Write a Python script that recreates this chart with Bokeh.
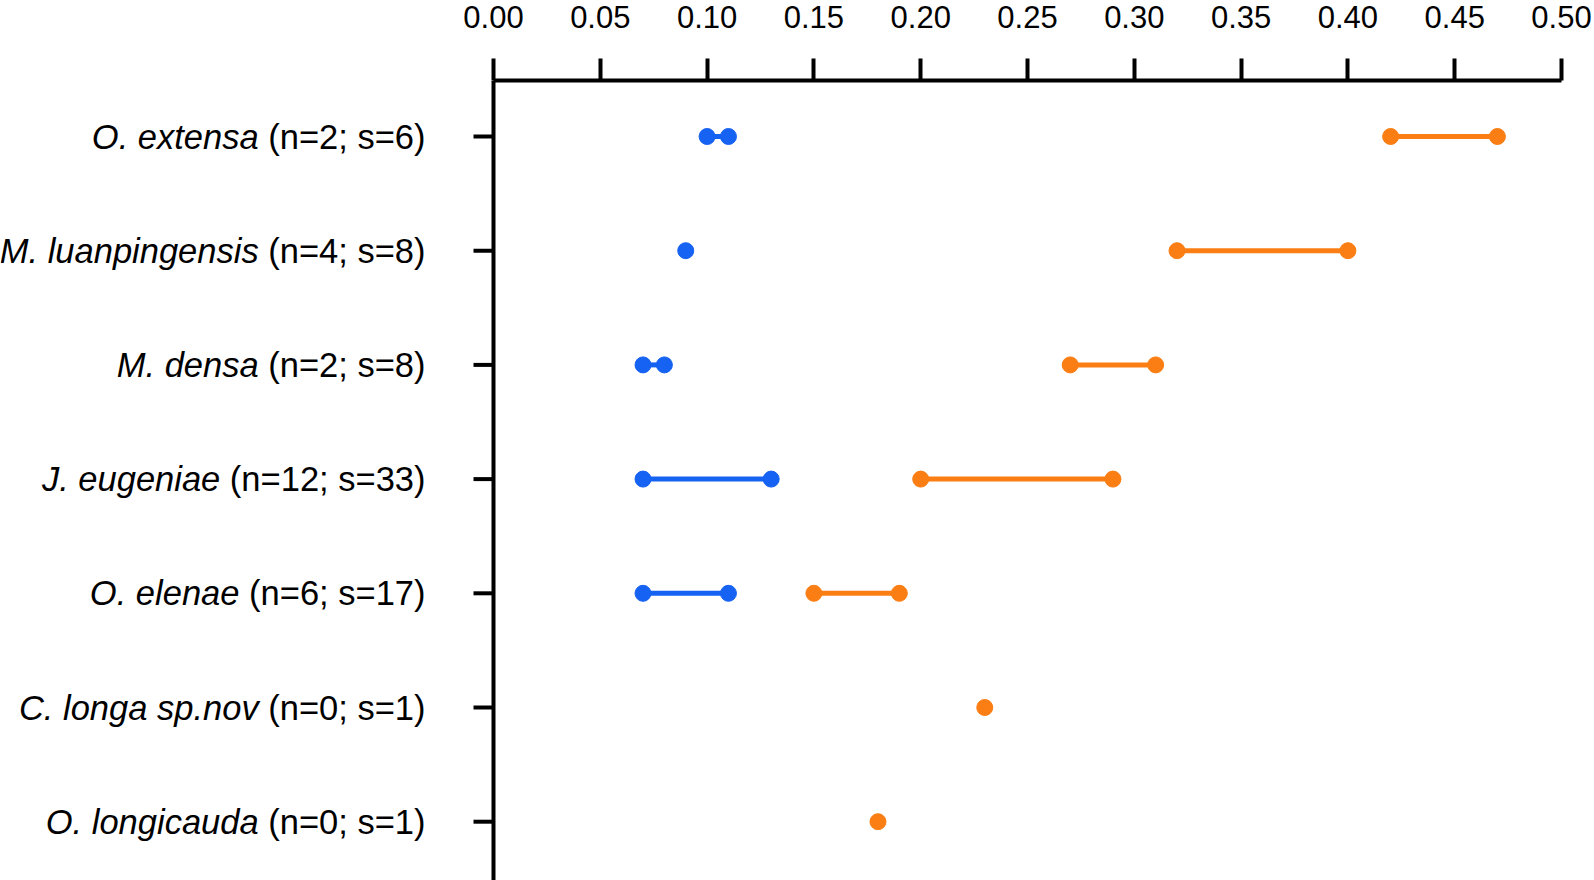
import math
from bokeh.plotting import figure
from bokeh.models import Range1d, FixedTicker, Span, ColumnDataSource
from bokeh.core.properties import value
from bokeh.embed import file_html
from bokeh.resources import INLINE

# ---- data ----
species = ["O. extensa", "M. luanpingensis", "M. densa", "J. eugeniae",
           "O. elenae", "C. longa sp.nov", "O. longicauda"]
counts = ["(n=2; s=6)", "(n=4; s=8)", "(n=2; s=8)", "(n=12; s=33)",
          "(n=6; s=17)", "(n=0; s=1)", "(n=0; s=1)"]
blue_min = [0.10, 0.09, 0.07, 0.07, 0.07, None, None]
blue_max = [0.11, 0.09, 0.08, 0.13, 0.11, None, None]
orange_min = [0.42, 0.32, 0.27, 0.20, 0.15, 0.23, 0.18]
orange_max = [0.47, 0.40, 0.31, 0.29, 0.19, 0.23, 0.18]
x_ticks = [0.00, 0.05, 0.10, 0.15, 0.20, 0.25, 0.30, 0.35, 0.40, 0.45, 0.50]
x_tick_labels = ["0.00", "0.05", "0.10", "0.15", "0.20", "0.25",
                 "0.30", "0.35", "0.40", "0.45", "0.50"]

BLUE = "#1662F2"
ORANGE = "#FB7E14"
FONT = "Liberation Sans"
LABEL_PX = 34.5
TICK_OUT_Y = 20
STANDOFF_Y = 48

# layout (screen px)
W_TOTAL, H_TOTAL = 1594, 880
AXIS_X0 = 493        # where x = 0 sits
AXIS_X1 = 1561       # where x = 0.5 sits
TOP = 80
ROW0, ROW_STEP = 136, 114.2

# Arial / Liberation Sans advance widths (per 1000 em) for measuring the plain part
W = {" ": 278, ".": 278, "(": 333, ")": 333, ";": 278, "=": 584, "n": 556, "s": 500}
for d in "0123456789":
    W[d] = 556


def text_width(t, px):
    return sum(W.get(c, 556) for c in t) / 1000.0 * px


rows = list(range(len(species)))

x_hi = x_ticks[-1]
x_lo = -x_hi * AXIS_X0 / (AXIS_X1 - AXIS_X0)
y_top = -(ROW0 - TOP) / ROW_STEP
y_bot = y_top + (H_TOTAL - TOP) / ROW_STEP

p = figure(width=W_TOTAL, height=H_TOTAL, output_backend="svg", toolbar_location=None,
           x_axis_location="above",
           x_range=Range1d(x_lo, x_hi), y_range=Range1d(y_bot, y_top),
           min_border_left=0, min_border_right=W_TOTAL - AXIS_X1,
           min_border_top=TOP, min_border_bottom=0)
p.outline_line_color = None
p.xgrid.visible = False
p.ygrid.visible = False
p.yaxis.visible = False
p.background_fill_color = "white"
p.border_fill_color = "white"

# x axis (top), limited to the data extent
xa = p.xaxis[0]
xa.bounds = (x_ticks[0], x_ticks[-1])
xa.ticker = FixedTicker(ticks=x_ticks)
xa.major_label_overrides = {t: l for t, l in zip(x_ticks, x_tick_labels)}
xa.minor_tick_line_color = None
xa.major_tick_in = 0
xa.major_tick_out = 22
xa.major_tick_line_width = 4
xa.axis_line_width = 4
xa.axis_line_color = "black"
xa.major_tick_line_color = "black"
xa.major_label_text_font = FONT
xa.major_label_text_font_size = "31px"
xa.major_label_text_color = "black"
xa.major_label_standoff = 31

# y axis line at x = 0 with ticks pointing left
p.add_layout(Span(location=0, dimension="height", line_color="black", line_width=4))
p.ray(x=[0] * len(rows), y=rows, length=TICK_OUT_Y, length_units="screen",
      angle=math.pi, line_color="black", line_width=4)

# category labels: plain count part + italic species part
lab = ColumnDataSource(dict(
    x=[0] * len(rows), y=rows, counts=counts, species=species,
    off_c=[-(TICK_OUT_Y + STANDOFF_Y)] * len(rows),
    off_s=[-(TICK_OUT_Y + STANDOFF_Y + text_width(c, LABEL_PX) + text_width(" ", LABEL_PX))
           for c in counts]))
p.text(x="x", y="y", text="counts", x_offset="off_c", source=lab,
       text_align="right", text_baseline="middle", text_color="black",
       text_font=value(FONT), text_font_size=value(f"{LABEL_PX}px"))
p.text(x="x", y="y", text="species", x_offset="off_s", source=lab,
       text_align="right", text_baseline="middle", text_color="black",
       text_font=value(FONT), text_font_size=value(f"{LABEL_PX}px"),
       text_font_style="italic")


def dumbbell(lo, hi, color):
    ys = [r for r in rows if lo[r] is not None]
    rng = [r for r in ys if lo[r] != hi[r]]
    seg = ColumnDataSource(dict(x0=[lo[r] for r in rng], x1=[hi[r] for r in rng], y=rng))
    p.segment(x0="x0", y0="y", x1="x1", y1="y", source=seg,
              line_color=color, line_width=5)
    pts = ColumnDataSource(dict(x=[lo[r] for r in ys] + [hi[r] for r in rng],
                                y=ys + rng))
    p.scatter(x="x", y="y", source=pts, size=16, color=color)


dumbbell(blue_min, blue_max, BLUE)
dumbbell(orange_min, orange_max, ORANGE)

open("out.html", "w").write(file_html(p, INLINE))
